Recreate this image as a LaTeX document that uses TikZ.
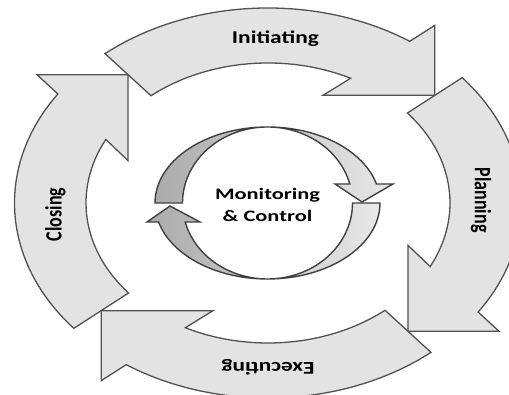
\documentclass[tikz,border=0pt]{standalone}
\usepackage{fontspec}
\setmainfont{Carlito}
\tikzset{
  phasearrow/.style={draw=black!68, line width=1.3pt, fill=black!11, line join=miter},
  loopshade/.style={draw=black!75, line width=1.4pt, left color=black!33, right color=black!9, line join=miter},
  phaselabel/.style={font=\bfseries\fontsize{18}{20}\selectfont, inner sep=0pt, transform shape},
}
\begin{document}
\begin{tikzpicture}[x=1pt,y=1pt]
  \useasboundingbox (0,0) rectangle (509,395);
  \clip (0,0) rectangle (509,395);
  \fill[white] (0,0) rectangle (509,395);
  %% outer cycle: one arrow, turned a quarter each time
  \begin{scope}[shift={(268,192)}, xscale=1.3]
    \foreach \r/\p/\txt in {0/88/Initiating, -90/1/Planning, 180/-90/Executing, 90/184/Closing} {
      \draw[phasearrow, rotate=\r] (130:195) arc[start angle=130, end angle=56, radius=195]
        -- (128.31,177.67) -- (40:167.5) -- (42.31,107.67)
        -- (63:140) arc[start angle=63, end angle=130, radius=140] -- cycle;
      \node[phaselabel, rotate=\r] (\txt) at (\p:164) {\txt};
    }
  \end{scope}
  %% monitoring loop in the middle
  \begin{scope}[shift={(267.5,192)}]
    \draw[loopshade] (180:112.5 and 76) arc[start angle=180, end angle=14.5, x radius=112.5, y radius=76]
      -- (125.5,19) -- (94.5,1) -- (67.5,19)
      -- (14.5:85 and 76) arc[start angle=14.5, end angle=180, x radius=85, y radius=76] -- cycle;
    \draw[loopshade] (0:112.5 and 76) arc[start angle=0, end angle=-165.5, x radius=112.5, y radius=76]
      -- (-120.5,-19) -- (-97.5,-3) -- (-67.5,-19)
      -- (-165.5:85 and 76) arc[start angle=-165.5, end angle=0, x radius=85, y radius=76] -- cycle;
    \node[align=center, font=\bfseries\fontsize{16}{22}\selectfont, xscale=1.4] (mc) at (0,-2) {Monitoring\\\& Control};
  \end{scope}
\end{tikzpicture}
\end{document}
